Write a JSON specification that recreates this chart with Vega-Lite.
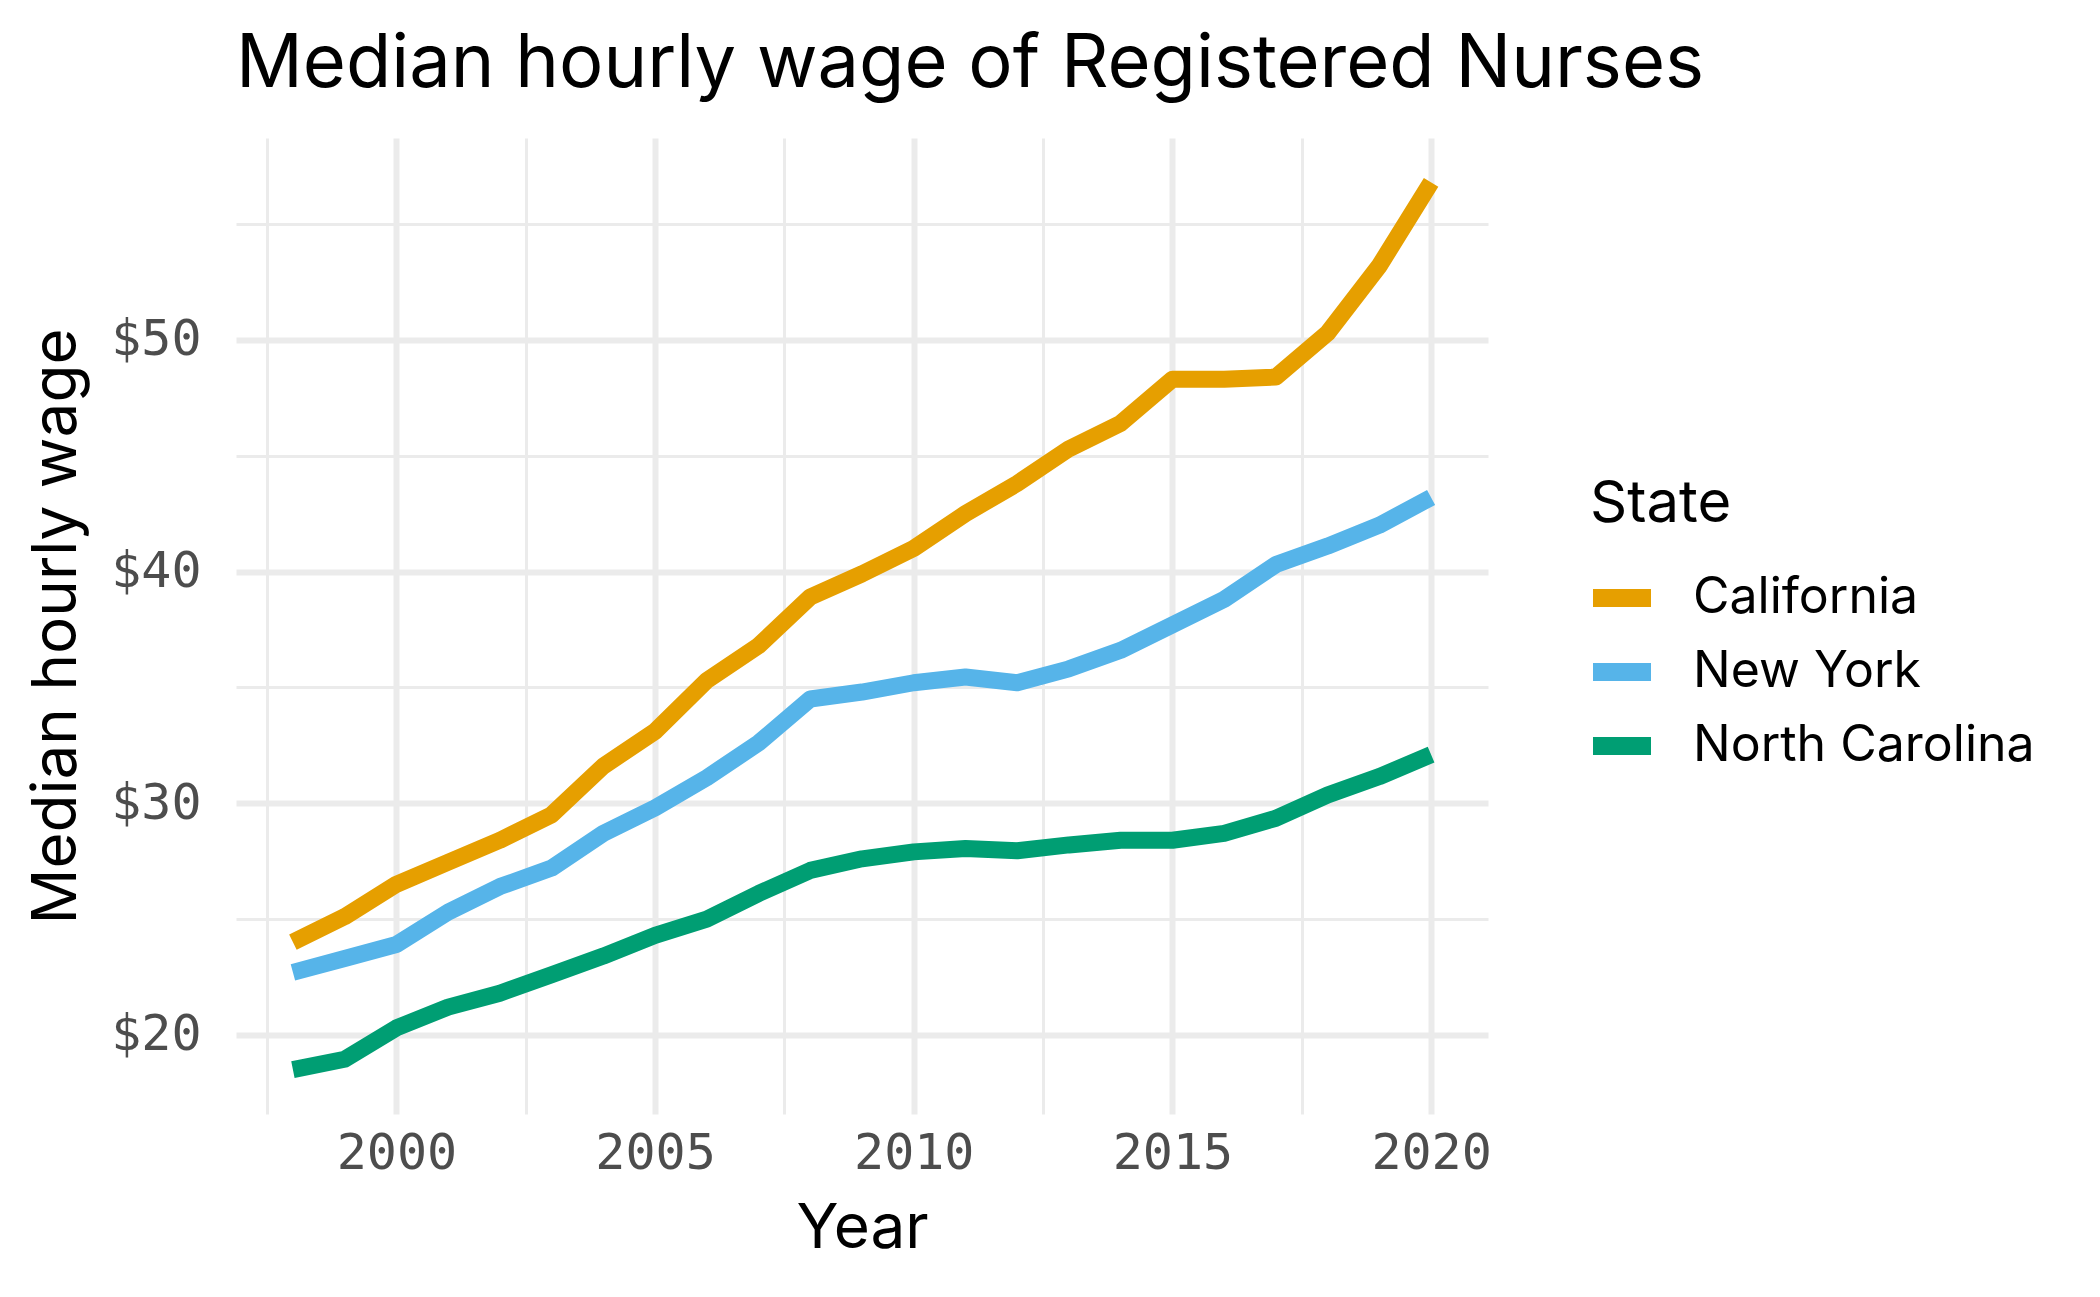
{
  "$schema": "https://vega.github.io/schema/vega-lite/v6.json",
  "autosize": "none",
  "width": 1252,
  "height": 976,
  "padding": {"left": 236, "top": 138, "right": 612, "bottom": 183},
  "background": "white",
  "title": {
    "text": "Median hourly wage of Registered Nurses",
    "anchor": "start",
    "frame": "group",
    "font": "Inter",
    "fontSize": 74,
    "fontWeight": "normal",
    "color": "black",
    "baseline": "alphabetic",
    "offset": -23
  },
  "config": {
    "view": {"stroke": null},
    "axis": {"gridColor": "#EBEBEB", "domain": false, "ticks": false}
  },
  "data": {
    "values": [
      {"Year": 1998, "State": "California", "Wage": 24.0},
      {"Year": 1999, "State": "California", "Wage": 25.1},
      {"Year": 2000, "State": "California", "Wage": 26.5},
      {"Year": 2001, "State": "California", "Wage": 27.45},
      {"Year": 2002, "State": "California", "Wage": 28.4},
      {"Year": 2003, "State": "California", "Wage": 29.5},
      {"Year": 2004, "State": "California", "Wage": 31.6},
      {"Year": 2005, "State": "California", "Wage": 33.1},
      {"Year": 2006, "State": "California", "Wage": 35.3},
      {"Year": 2007, "State": "California", "Wage": 36.8},
      {"Year": 2008, "State": "California", "Wage": 38.9},
      {"Year": 2009, "State": "California", "Wage": 39.9},
      {"Year": 2010, "State": "California", "Wage": 41.0},
      {"Year": 2011, "State": "California", "Wage": 42.5},
      {"Year": 2012, "State": "California", "Wage": 43.8},
      {"Year": 2013, "State": "California", "Wage": 45.3},
      {"Year": 2014, "State": "California", "Wage": 46.4},
      {"Year": 2015, "State": "California", "Wage": 48.3},
      {"Year": 2016, "State": "California", "Wage": 48.3},
      {"Year": 2017, "State": "California", "Wage": 48.4},
      {"Year": 2018, "State": "California", "Wage": 50.3},
      {"Year": 2019, "State": "California", "Wage": 53.2},
      {"Year": 2020, "State": "California", "Wage": 56.8},
      {"Year": 1998, "State": "New York", "Wage": 22.7},
      {"Year": 1999, "State": "New York", "Wage": 23.3},
      {"Year": 2000, "State": "New York", "Wage": 23.9},
      {"Year": 2001, "State": "New York", "Wage": 25.3},
      {"Year": 2002, "State": "New York", "Wage": 26.4},
      {"Year": 2003, "State": "New York", "Wage": 27.2},
      {"Year": 2004, "State": "New York", "Wage": 28.7},
      {"Year": 2005, "State": "New York", "Wage": 29.8},
      {"Year": 2006, "State": "New York", "Wage": 31.1},
      {"Year": 2007, "State": "New York", "Wage": 32.6},
      {"Year": 2008, "State": "New York", "Wage": 34.5},
      {"Year": 2009, "State": "New York", "Wage": 34.8},
      {"Year": 2010, "State": "New York", "Wage": 35.2},
      {"Year": 2011, "State": "New York", "Wage": 35.45},
      {"Year": 2012, "State": "New York", "Wage": 35.2},
      {"Year": 2013, "State": "New York", "Wage": 35.8},
      {"Year": 2014, "State": "New York", "Wage": 36.6},
      {"Year": 2015, "State": "New York", "Wage": 37.7},
      {"Year": 2016, "State": "New York", "Wage": 38.8},
      {"Year": 2017, "State": "New York", "Wage": 40.3},
      {"Year": 2018, "State": "New York", "Wage": 41.1},
      {"Year": 2019, "State": "New York", "Wage": 42.0},
      {"Year": 2020, "State": "New York", "Wage": 43.2},
      {"Year": 1998, "State": "North Carolina", "Wage": 18.5},
      {"Year": 1999, "State": "North Carolina", "Wage": 18.95},
      {"Year": 2000, "State": "North Carolina", "Wage": 20.3},
      {"Year": 2001, "State": "North Carolina", "Wage": 21.2},
      {"Year": 2002, "State": "North Carolina", "Wage": 21.8},
      {"Year": 2003, "State": "North Carolina", "Wage": 22.6},
      {"Year": 2004, "State": "North Carolina", "Wage": 23.4},
      {"Year": 2005, "State": "North Carolina", "Wage": 24.3},
      {"Year": 2006, "State": "North Carolina", "Wage": 25.0},
      {"Year": 2007, "State": "North Carolina", "Wage": 26.1},
      {"Year": 2008, "State": "North Carolina", "Wage": 27.1},
      {"Year": 2009, "State": "North Carolina", "Wage": 27.6},
      {"Year": 2010, "State": "North Carolina", "Wage": 27.9},
      {"Year": 2011, "State": "North Carolina", "Wage": 28.05},
      {"Year": 2012, "State": "North Carolina", "Wage": 27.95},
      {"Year": 2013, "State": "North Carolina", "Wage": 28.2},
      {"Year": 2014, "State": "North Carolina", "Wage": 28.4},
      {"Year": 2015, "State": "North Carolina", "Wage": 28.4},
      {"Year": 2016, "State": "North Carolina", "Wage": 28.7},
      {"Year": 2017, "State": "North Carolina", "Wage": 29.35},
      {"Year": 2018, "State": "North Carolina", "Wage": 30.35},
      {"Year": 2019, "State": "North Carolina", "Wage": 31.15},
      {"Year": 2020, "State": "North Carolina", "Wage": 32.1}
    ]
  },
  "layer": [
    {
      "mark": {"type": "line", "strokeOpacity": 0},
      "encoding": {
        "x": {
          "field": "Year", "type": "quantitative",
          "scale": {"domain": [1996.9, 2021.1], "nice": false, "zero": false},
          "axis": {"orient": "top", "values": [1997.5, 2002.5, 2007.5, 2012.5, 2017.5], "grid": true, "gridWidth": 3, "labels": false, "ticks": false, "domain": false, "title": null}
        },
        "y": {
          "field": "Wage", "type": "quantitative",
          "scale": {"domain": [16.585, 58.715], "nice": false, "zero": false},
          "axis": {"orient": "right", "values": [25, 35, 45, 55], "grid": true, "gridWidth": 3, "labels": false, "ticks": false, "domain": false, "title": null}
        },
        "detail": {"field": "State"}
      }
    },
    {
      "mark": {"type": "line", "strokeWidth": 17, "strokeJoin": "round", "strokeCap": "butt"},
      "encoding": {
        "x": {
          "field": "Year", "type": "quantitative",
          "axis": {
            "values": [2000, 2005, 2010, 2015, 2020], "format": "d",
            "grid": true, "gridWidth": 6,
            "labelFont": "DejaVu Sans Mono", "labelFontSize": 50, "labelColor": "#4D4D4D", "labelPadding": 14,
            "title": "Year", "titleFont": "Inter", "titleFontSize": 62, "titleFontWeight": "normal", "titleColor": "black", "titlePadding": 20
          }
        },
        "y": {
          "field": "Wage", "type": "quantitative",
          "axis": {
            "values": [20, 30, 40, 50], "labelExpr": "'$' + datum.value",
            "grid": true, "gridWidth": 6,
            "labelFont": "DejaVu Sans Mono", "labelFontSize": 50, "labelColor": "#4D4D4D", "labelPadding": 35,
            "title": "Median hourly wage", "titleFont": "Inter", "titleFontSize": 62, "titleFontWeight": "normal", "titleColor": "black", "titlePadding": 22
          }
        },
        "color": {
          "field": "State", "type": "nominal",
          "scale": {"domain": ["California", "New York", "North Carolina"], "range": ["#E69F00", "#56B4E9", "#009E73"]},
          "legend": {
            "orient": "none", "legendX": 1354, "legendY": 338,
            "title": "State", "titleFont": "Inter", "titleFontSize": 58, "titleFontWeight": "normal", "titleColor": "black", "titlePadding": 26,
            "labelFont": "Inter", "labelFontSize": 50, "labelColor": "black", "labelOffset": 33, "labelLimit": 800,
            "symbolType": "stroke", "symbolSize": 3364, "symbolStrokeWidth": 18, "symbolOffset": -6,
            "rowPadding": -4
          }
        }
      }
    }
  ],
  "resolve": {"axis": {"x": "independent", "y": "independent"}}
}
